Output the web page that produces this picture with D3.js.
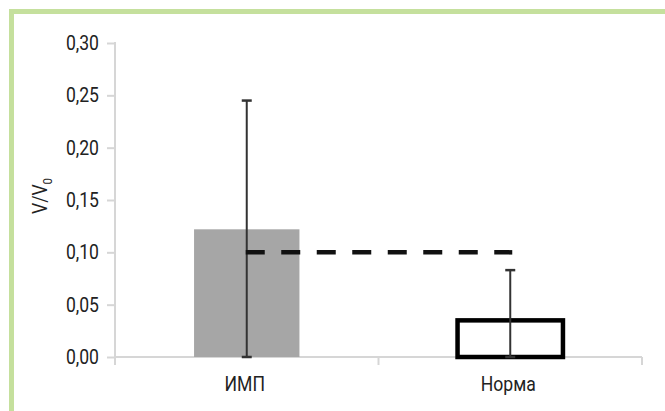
<!DOCTYPE html>
<html>
<head>
<meta charset="utf-8">
<script src="https://cdn.jsdelivr.net/npm/d3@7"></script>
<style>
  body { margin: 0; background: #fff; }
  svg { display: block; }
  .lbl { font-family: Roboto, "Liberation Sans", sans-serif; font-size: 20px; fill: #222; }
</style>
</head>
<body>
<div id="chart"></div>
<script>
// data
var groups = ["ИМП", "Норма"];
var means = [0.122, 0.035];
var errors = [0.123, 0.048];
var refLevel = 0.10;
var yTicks = [0, 0.05, 0.10, 0.15, 0.20, 0.25, 0.30];

var width = 665, height = 411;
var margin = { top: 43, right: 23, bottom: 54, left: 115 };
var sx = 0.88; // squeeze text a bit, the original font is condensed

var svg = d3.select("#chart").append("svg")
	.attr("width", width)
	.attr("height", height);

// green frame (top and left edges only)
svg.append("rect").attr("x", 9).attr("y", 9).attr("width", width - 9).attr("height", 5).attr("fill", "#c5e09d");
svg.append("rect").attr("x", 9).attr("y", 9).attr("width", 5).attr("height", height - 9).attr("fill", "#c5e09d");

var x = d3.scaleBand()
	.domain(groups)
	.range([margin.left, width - margin.right])
	.padding(0);

var y = d3.scaleLinear()
	.domain([0, 0.30])
	.range([height - margin.bottom, margin.top]);

var barW = x.bandwidth() * 0.4;
var fmt = function (d) { return d3.format(".2f")(d).replace(".", ","); };

// y axis
var yAxis = svg.append("g")
	.attr("transform", "translate(" + margin.left + ",0)")
	.call(d3.axisLeft(y).tickValues(yTicks).tickFormat(fmt).tickSize(8).tickPadding(8));
yAxis.select(".domain").remove();
yAxis.selectAll(".tick line").attr("stroke", "#d6d6d6").attr("stroke-width", 2);
yAxis.selectAll(".tick text")
	.attr("class", "lbl")
	.attr("x", -16 / sx)
	.attr("transform", "scale(" + sx + ",1)");
svg.append("line")
	.attr("x1", margin.left).attr("x2", margin.left)
	.attr("y1", y(0.30) - 1).attr("y2", y(0) + 8)
	.attr("stroke", "#d6d6d6").attr("stroke-width", 2);

// x axis line and category separators
svg.append("line")
	.attr("x1", margin.left).attr("x2", width - margin.right)
	.attr("y1", y(0)).attr("y2", y(0))
	.attr("stroke", "#d6d6d6").attr("stroke-width", 2);
var bounds = groups.map(function (g) { return x(g); }).concat([width - margin.right]);
svg.selectAll(".sep").data(bounds.slice(1)).enter().append("line")
	.attr("x1", function (d) { return d; }).attr("x2", function (d) { return d; })
	.attr("y1", y(0)).attr("y2", y(0) + 8)
	.attr("stroke", "#d6d6d6").attr("stroke-width", 2);

svg.append("g")
	.selectAll("text").data(groups).enter().append("text")
	.attr("class", "lbl")
	.attr("transform", function (d) {
		return "translate(" + (x(d) + x.bandwidth() / 2 - 2) + ",391) scale(" + sx + ",1)";
	})
	.attr("text-anchor", "middle")
	.text(function (d) { return d; });

// y label V/V0
var lab = svg.append("text")
	.attr("class", "lbl")
	.attr("transform", "translate(47,196) rotate(-90) scale(" + sx + ",1)")
	.attr("text-anchor", "middle");
lab.append("tspan").text("V/V");
lab.append("tspan").attr("dy", 5).style("font-size", "13px").text("0");

// bars
svg.selectAll(".bar").data(groups).enter().append("rect")
	.attr("x", function (d) { return x(d) + (x.bandwidth() - barW) / 2; })
	.attr("width", barW)
	.attr("y", function (d, i) { return y(means[i]); })
	.attr("height", function (d, i) { return y(0) - y(means[i]); })
	.attr("fill", function (d, i) { return i == 0 ? "#a6a6a6" : "#fff"; })
	.attr("stroke", function (d, i) { return i == 0 ? "none" : "#000"; })
	.attr("stroke-width", 4.5);

// error bars
groups.forEach(function (g, i) {
	var cx = x(g) + x.bandwidth() / 2;
	var lo = Math.max(0, means[i] - errors[i]);
	var hi = means[i] + errors[i];
	svg.append("line")
		.attr("x1", cx).attr("x2", cx)
		.attr("y1", y(lo)).attr("y2", y(hi))
		.attr("stroke", "#333").attr("stroke-width", 2);
	[lo, hi].forEach(function (v) {
		svg.append("line")
			.attr("x1", cx - 5).attr("x2", cx + 5)
			.attr("y1", y(v)).attr("y2", y(v))
			.attr("stroke", "#333").attr("stroke-width", 2.5);
	});
});

// dashed reference line between group centres
svg.append("line")
	.attr("x1", x(groups[0]) + x.bandwidth() / 2 - 1)
	.attr("x2", x(groups[1]) + x.bandwidth() / 2 + 2)
	.attr("y1", y(refLevel)).attr("y2", y(refLevel))
	.attr("stroke", "#111")
	.attr("stroke-width", 4.5)
	.attr("stroke-dasharray", "19,16.5");
</script>
</body>
</html>
